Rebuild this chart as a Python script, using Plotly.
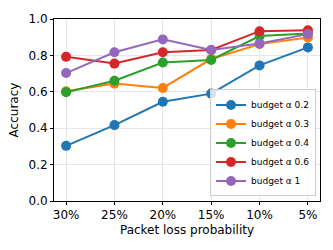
import plotly.graph_objects as go

categories = ["30%", "25%", "20%", "15%", "10%", "5%"]
series_names = ["budget α 0.2", "budget α 0.3", "budget α 0.4", "budget α 0.6", "budget α 1"]
blue = [0.303, 0.417, 0.545, 0.590, 0.745, 0.844]
orange = [0.603, 0.645, 0.621, 0.780, 0.862, 0.898]
green = [0.598, 0.661, 0.761, 0.775, 0.906, 0.920]
red = [0.792, 0.755, 0.817, 0.830, 0.933, 0.938]
purple = [0.703, 0.817, 0.888, 0.830, 0.866, 0.917]
colors = ["#1f77b4", "#ff7f0e", "#2ca02c", "#d62728", "#9467bd"]

fig = go.Figure()
for name, vals, c in zip(series_names, [blue, orange, green, red, purple], colors):
    fig.add_trace(go.Scatter(
        x=list(range(len(categories))), y=vals, name=name, mode="lines+markers",
        line=dict(color=c, width=2), marker=dict(color=c, size=10),
    ))

axis_common = dict(
    showline=True, linecolor="black", linewidth=1, mirror=True,
    showgrid=True, gridcolor="#e6e6e6", gridwidth=1, zeroline=False,
    ticks="outside", ticklen=3, tickcolor="black",
    tickfont=dict(family="DejaVu Sans", size=12, color="black"),
)
fig.update_xaxes(
    **axis_common, range=[-0.25, 5.25], tickmode="array",
    tickvals=list(range(len(categories))), ticktext=categories,
    title=dict(text="Packet loss probability", font=dict(family="DejaVu Sans", size=12, color="black"), standoff=4),
)
fig.update_yaxes(
    **axis_common, range=[0, 1.0], tickmode="array",
    tickvals=[0, 0.2, 0.4, 0.6, 0.8, 1.0], ticktext=["0.0", "0.2", "0.4", "0.6", "0.8", "1.0"],
    title=dict(text="Accuracy", font=dict(family="DejaVu Sans", size=12, color="black"), standoff=7),
)
fig.update_layout(
    width=333, height=250, plot_bgcolor="white", paper_bgcolor="white",
    margin=dict(l=54, r=13, t=17, b=49),
    legend=dict(
        x=0.985, y=0.025, xanchor="right", yanchor="bottom",
        bgcolor="rgba(255,255,255,0.8)", bordercolor="#cccccc", borderwidth=1,
        font=dict(family="DejaVu Sans", size=9, color="black"),
        tracegroupgap=0, itemwidth=30,
    ),
)
fig.write_html("out.html", config={"displayModeBar": False},
               post_script="document.body.style.margin='0';document.body.style.overflow='hidden';")
